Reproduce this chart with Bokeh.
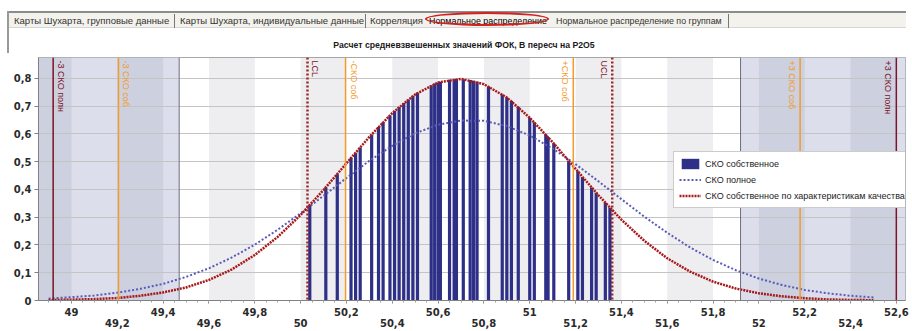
import math
from bokeh.plotting import figure
from bokeh.layouts import column
from bokeh.models import (Range1d, FixedTicker, LinearAxis, Span, Label, Div,
                          BoxAnnotation, Legend, LegendItem)
from bokeh.embed import file_html
from bokeh.resources import INLINE

TXT_FONT = "Liberation Sans"
NUM_FONT = "DejaVu Sans"

# ---------------- data ----------------
tab_labels = ["Карты Шухарта, групповые данные",
              "Карты Шухарта, индивидуальные данные",
              "Корреляция",
              "Нормальное распределение",
              "Нормальное распределение по группам"]
active_tab = 3
chart_title = "Расчет средневзвешенных значений ФОК, В пересч на P2O5"

curve_x = [48.9, 49.0, 49.1, 49.2, 49.3, 49.4, 49.5, 49.6, 49.7, 49.8,
           49.9, 50.0, 50.1, 50.2, 50.3, 50.4, 50.5, 50.6, 50.7, 50.8,
           50.9, 51.0, 51.1, 51.2, 51.3, 51.4, 51.5, 51.6, 51.7, 51.8,
           51.9, 52.0, 52.1, 52.2, 52.3, 52.4, 52.5]
# "СКО собственное по характеристикам качества" curve
own_curve = [0.001, 0.003, 0.005, 0.009, 0.017, 0.029, 0.047, 0.074, 0.112, 0.164,
             0.229, 0.308, 0.398, 0.494, 0.589, 0.675, 0.742, 0.785, 0.798, 0.779,
             0.731, 0.658, 0.570, 0.474, 0.379, 0.291, 0.215, 0.152, 0.104, 0.068,
             0.043, 0.026, 0.015, 0.008, 0.004, 0.002, 0.001]
# "СКО полное" curve
full_curve = [0.007, 0.012, 0.018, 0.028, 0.042, 0.060, 0.085, 0.116, 0.155, 0.201,
              0.255, 0.314, 0.377, 0.441, 0.503, 0.557, 0.602, 0.633, 0.648, 0.647,
              0.628, 0.594, 0.547, 0.491, 0.429, 0.365, 0.302, 0.244, 0.191, 0.146,
              0.109, 0.079, 0.056, 0.038, 0.026, 0.017, 0.011]

# "СКО собственное" bars (individual values)
bar_x = [50.04, 50.11, 50.16, 50.22, 50.24, 50.26, 50.31, 50.34, 50.36, 50.39,
         50.41, 50.43, 50.45, 50.47, 50.49, 50.51, 50.57, 50.585, 50.60, 50.61,
         50.65, 50.67, 50.68, 50.71, 50.74, 50.755, 50.77, 50.82, 50.88, 50.90,
         50.92, 50.95, 51.00, 51.02, 51.07, 51.08, 51.105, 51.17, 51.21, 51.23,
         51.27, 51.29, 51.33, 51.35]
bar_h = [0.343, 0.407, 0.455, 0.513, 0.532, 0.551, 0.598, 0.625, 0.642, 0.666,
         0.682, 0.697, 0.711, 0.724, 0.737, 0.748, 0.775, 0.781, 0.785, 0.788,
         0.795, 0.797, 0.798, 0.797, 0.794, 0.791, 0.788, 0.771, 0.742, 0.731,
         0.718, 0.697, 0.658, 0.642, 0.598, 0.589, 0.565, 0.503, 0.465, 0.445,
         0.407, 0.388, 0.352, 0.334]

limit_names = ["-3 СКО полн", "-3 СКО соб", "LCL", "-СКО соб",
               "+СКО соб", "UCL", "+3 СКО соб", "+3 СКО полн"]
limit_values = [48.92, 49.205, 50.03, 50.196, 51.19, 51.36, 52.18, 52.60]
limit_kinds = ["full", "own", "ctrl", "own", "own", "ctrl", "own", "full"]

zone_low = 49.47
zone_high = 51.92
stripe_starts = [48.8, 49.2, 49.6, 50.0, 50.4, 50.8, 51.2, 51.6, 52.0, 52.4]

x_ticks_row1 = [49.0, 49.4, 49.8, 50.2, 50.6, 51.0, 51.4, 51.8, 52.2, 52.6]
x_ticks_row2 = [49.2, 49.6, 50.0, 50.4, 50.8, 51.2, 51.6, 52.0, 52.4]
y_ticks = [0.0, 0.1, 0.2, 0.3, 0.4, 0.5, 0.6, 0.7, 0.8]

X_MIN, X_MAX = 48.856, 52.64
Y_MAX = 0.875


def fmt(v):
    s = f"{v:.1f}"
    if s.endswith(".0"):
        s = s[:-2]
    return s.replace(".", ",")


# ---------------- geometry (page pixels) ----------------
W, H = 912, 331
HDR = 53                               # header height (tab strip + title)
FL, FR, FT, FB = 38, 905, 57, 300      # plot frame edges on the page

# ---------------- header: tab strip + title ----------------
tab_left = [14, 180, 370, 429, 556]
tab_size = ["9.5px", "9.5px", "9.5px", "8.9px", "8.9px"]
sep_left = [174, 365, 728]
parts = [f'<div style="position:relative;width:{W}px;height:{HDR}px;overflow:hidden;'
         f'background:#ffffff;font-family:\'{TXT_FONT}\',sans-serif;">',
         '<div style="position:absolute;left:8px;top:11px;width:898px;height:17px;'
         'background:#f3f2ec;border-top:2px solid #8c8c8c;border-bottom:1px solid #d6d6d6;"></div>',
         f'<div style="position:absolute;left:7px;top:11px;width:2px;height:{HDR - 11}px;'
         'background:#9a9a9a;"></div>']
for sl in sep_left:
    parts.append(f'<div style="position:absolute;left:{sl}px;top:14px;width:1px;height:14px;'
                 'background:#777777;"></div>')
for i, (lab, tl, fs) in enumerate(zip(tab_labels, tab_left, tab_size)):
    color = "#000000" if i == active_tab else "#333333"
    parts.append(f'<div style="position:absolute;left:{tl}px;top:15px;font-size:{fs};'
                 f'line-height:12px;white-space:nowrap;color:{color};">{lab}</div>')
parts.append('<div style="position:absolute;left:425px;top:12px;width:124px;height:14px;'
             'border:2px solid #d42020;border-radius:50%;"></div>')
parts.append(f'<div style="position:absolute;left:464px;top:39px;transform:translateX(-50%);'
             f'font-size:8.7px;font-weight:bold;line-height:12px;white-space:nowrap;'
             f'color:#1a1a1a;">{chart_title}</div>')
parts.append('</div>')
header = Div(text="".join(parts), width=W, height=HDR, margin=0)

# ---------------- main chart ----------------
p = figure(width=W, height=H - HDR, x_range=Range1d(X_MIN, X_MAX), y_range=Range1d(0, Y_MAX),
           output_backend="svg", toolbar_location=None,
           min_border_left=FL, min_border_right=W - FR, min_border_top=FT - HDR,
           min_border_bottom=H - FB)
p.background_fill_color = "white"
p.border_fill_color = "white"
p.outline_line_color = "#a8a8a8"

p.add_layout(BoxAnnotation(right=zone_low, fill_color="#dcdfeb", fill_alpha=1.0,
                           line_color=None, level="image"))
p.add_layout(BoxAnnotation(left=zone_high, fill_color="#dcdfeb", fill_alpha=1.0,
                           line_color=None, level="image"))
for s in stripe_starts:
    p.add_layout(BoxAnnotation(left=s, right=s + 0.2, fill_color="#101038",
                               fill_alpha=0.07, line_color=None, level="image"))
for z in (zone_low, zone_high):
    p.add_layout(Span(location=z, dimension="height", line_color="#6e6e80", line_width=1))

p.xgrid.visible = False
p.ygrid.ticker = FixedTicker(ticks=y_ticks)
p.ygrid.grid_line_color = "#c4c4c4"

bars = p.vbar(x=bar_x, top=bar_h, bottom=0, width=0.014,
              fill_color="#2e3088", line_color=None)

full_line = p.line(curve_x, full_curve, line_color="#5a5ab8", line_width=2, line_dash="2 2")
own_line = p.line(curve_x, own_curve, line_color="#a81818", line_width=2.5, line_dash="2 1")

kind_style = {
    "full": dict(color="#7d1228", width=1.5, dash="solid"),
    "own": dict(color="#f39c2b", width=1.5, dash="solid"),
    "ctrl": dict(color="#9c2626", width=2.5, dash="2 2"),
}
kind_text = {"full": "#7d1228", "own": "#f39c2b", "ctrl": "#7d1228"}
for name, xv, kind in zip(limit_names, limit_values, limit_kinds):
    st = kind_style[kind]
    p.add_layout(Span(location=xv, dimension="height", line_color=st["color"],
                      line_width=st["width"], line_dash=st["dash"]))
    left_side = xv < 50.7
    p.add_layout(Label(x=xv, y=Y_MAX, x_offset=3 if left_side else -3, y_offset=-3,
                       text=name, angle=-math.pi / 2, text_align="left",
                       text_baseline="bottom" if left_side else "top",
                       text_font=TXT_FONT, text_font_size="9px",
                       text_color=kind_text[kind]))

# ---------------- axes ----------------
minor = [round(48.85 + 0.05 * i, 2) for i in range(77)]
all_x = sorted(x_ticks_row1 + x_ticks_row2)
xa = p.xaxis[0]
xa.ticker = FixedTicker(ticks=all_x, minor_ticks=minor)
overrides1 = {t: fmt(t) for t in x_ticks_row1}
overrides1.update({t: "" for t in x_ticks_row2})
xa.major_label_overrides = overrides1
xa.major_tick_out = 3
xa.major_tick_in = 0
xa.minor_tick_out = 2
xa.minor_tick_in = 0
xa.major_label_standoff = 4
xa.axis_line_color = "#808080"
xa.major_tick_line_color = "#808080"
xa.minor_tick_line_color = "#a0a0a0"
xa.major_label_text_font = NUM_FONT
xa.major_label_text_font_size = "10px"
xa.major_label_text_font_style = "bold"
xa.major_label_text_color = "#2a2a2a"

xa2 = LinearAxis(ticker=FixedTicker(ticks=x_ticks_row2),
                 major_label_overrides={t: fmt(t) for t in x_ticks_row2},
                 axis_line_color=None, major_tick_line_color=None,
                 minor_tick_line_color=None, major_tick_out=0, major_tick_in=0,
                 major_label_standoff=0, major_label_text_font=NUM_FONT,
                 major_label_text_font_size="10px", major_label_text_font_style="bold",
                 major_label_text_color="#2a2a2a")
p.add_layout(xa2, "below")

ya = p.yaxis[0]
ya.ticker = FixedTicker(ticks=y_ticks)
ya.major_label_overrides = {t: fmt(t) for t in y_ticks}
ya.axis_line_color = "#808080"
ya.major_tick_line_color = "#808080"
ya.minor_tick_line_color = None
ya.major_tick_out = 4
ya.major_tick_in = 0
ya.major_label_standoff = 3
ya.major_label_text_font = NUM_FONT
ya.major_label_text_font_size = "10px"
ya.major_label_text_font_style = "bold"
ya.major_label_text_color = "#2a2a2a"

legend = Legend(items=[LegendItem(label="СКО собственное", renderers=[bars]),
                       LegendItem(label="СКО полное", renderers=[full_line]),
                       LegendItem(label="СКО собственное по характеристикам качества",
                                  renderers=[own_line])],
                location=(673 - FL, FB - 208))
legend.label_text_font = TXT_FONT
legend.label_text_font_size = "9px"
legend.label_text_color = "#222222"
legend.glyph_width = 22
legend.glyph_height = 13
legend.label_height = 13
legend.spacing = 3
legend.padding = 5
legend.margin = 0
legend.label_standoff = 4
legend.border_line_color = "#9a9a9a"
legend.background_fill_color = "white"
legend.background_fill_alpha = 1.0
p.add_layout(legend)

layout = column(header, p, spacing=0)
open("out.html", "w").write(file_html(layout, INLINE))
